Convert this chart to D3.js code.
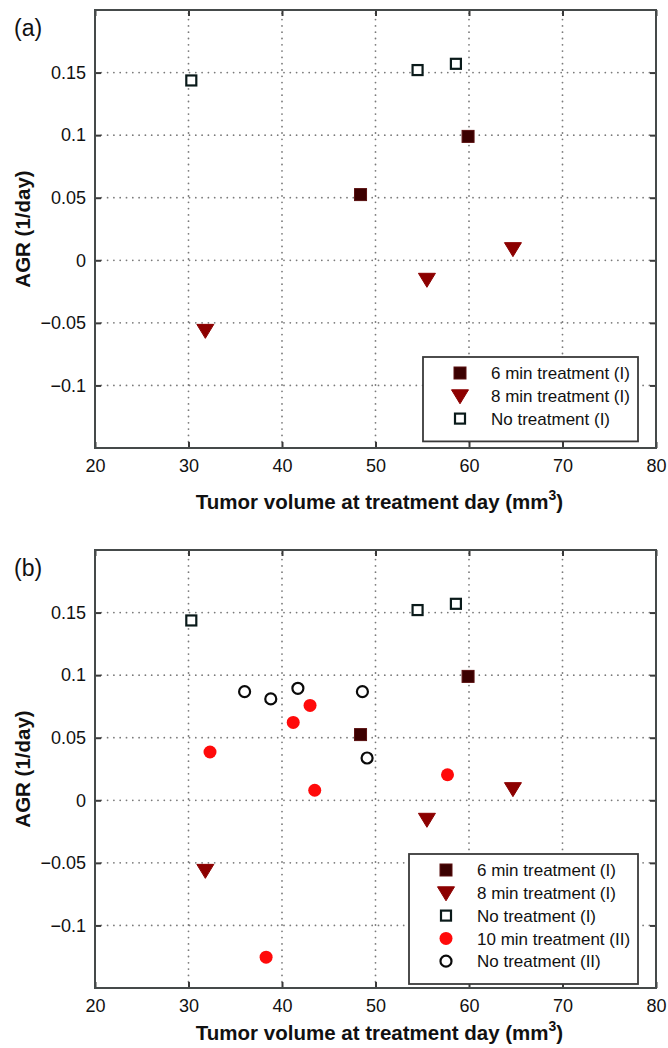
<!DOCTYPE html>
<meta charset="utf-8">
<style>
body { margin: 0; background: #fff; }
svg { display: block; font-family: "Liberation Sans", Arial, sans-serif; }
.grid line { stroke: #7a7a7a; stroke-width: 1.8; stroke-dasharray: 0,6.3; stroke-linecap: round; }
.axis path { display: none; }
.axis line { stroke: #3a3a3a; stroke-width: 2; }
.axis text { font-size: 18px; fill: #111; }
.frame { fill: none; stroke: #454a4a; stroke-width: 2; }
</style>
<svg width="668" height="1048"></svg>
<script src="https://d3js.org/d3.v7.min.js"></script>
<script>

// tick values / labels
var xTicks = [20, 30, 40, 50, 60, 70, 80];
var yTicks = [-0.1, -0.05, 0, 0.05, 0.1, 0.15];
var yTickLabels = ["\u22120.1", "\u22120.05", "0", "0.05", "0.1", "0.15"];

// series
var sixMinX = [48.4, 59.9];
var sixMinY = [0.0525, 0.099];
var eightMinX = [31.8, 55.5, 64.7];
var eightMinY = [-0.056, -0.0152, 0.0093];
var noTreatIX = [30.3, 54.5, 58.6];
var noTreatIY = [0.1437, 0.152, 0.157];
var tenMinX = [32.3, 41.2, 43.0, 43.5, 57.7, 38.3];
var tenMinY = [0.0386, 0.0622, 0.0758, 0.008, 0.0204, -0.1254];
var noTreatIIX = [36.0, 38.8, 41.7, 48.6, 49.1];
var noTreatIIY = [0.0868, 0.081, 0.0895, 0.0868, 0.0338];

var series = [
  {name: "6 min treatment (I)", xs: sixMinX, ys: sixMinY, shape: "fsquare"},
  {name: "8 min treatment (I)", xs: eightMinX, ys: eightMinY, shape: "tri"},
  {name: "No treatment (I)", xs: noTreatIX, ys: noTreatIY, shape: "osquare"},
  {name: "10 min treatment (II)", xs: tenMinX, ys: tenMinY, shape: "fcircle"},
  {name: "No treatment (II)", xs: noTreatIIX, ys: noTreatIIY, shape: "ocircle"}
];

var svg = d3.select("svg");

function marker(g, shape, x, y) {
  if (shape == "fsquare") {
    g.append("rect").attr("x", x - 6).attr("y", y - 6).attr("width", 12).attr("height", 12)
      .attr("fill", "#3b0000").attr("stroke", "#5a1010").attr("stroke-width", 1);
  } else if (shape == "osquare") {
    g.append("rect").attr("x", x - 5).attr("y", y - 5).attr("width", 10).attr("height", 10)
      .attr("fill", "#fff").attr("stroke", "#0a1a1a").attr("stroke-width", 2.2);
  } else if (shape == "tri") {
    g.append("path").attr("d", "M" + (x - 8.5) + "," + (y - 6) + "L" + (x + 8.5) + "," + (y - 6) + "L" + x + "," + (y + 8) + "Z")
      .attr("fill", "#8c0000").attr("stroke", "#8c0000").attr("stroke-width", 1);
  } else if (shape == "fcircle") {
    g.append("circle").attr("cx", x).attr("cy", y).attr("r", 6.5).attr("fill", "#ff0a0a");
  } else if (shape == "ocircle") {
    g.append("circle").attr("cx", x).attr("cy", y).attr("r", 5.5)
      .attr("fill", "#fff").attr("stroke", "#0a0a0a").attr("stroke-width", 2.2);
  }
}

function panel(top, nSeries, label, legend) {
  var left = 95, right = 656, bottom = top + 438;
  var x = d3.scaleLinear().domain([20, 80]).range([left, right]);
  var y = d3.scaleLinear().domain([-0.15, 0.2]).range([bottom, top]);
  var g = svg.append("g");

  var grid = g.append("g").attr("class", "grid");
  grid.selectAll(".gx").data(xTicks.slice(1, -1)).enter().append("line")
    .attr("x1", function(d) { return x(d); }).attr("x2", function(d) { return x(d); })
    .attr("y1", bottom).attr("y2", top);
  grid.selectAll(".gy").data(yTicks).enter().append("line")
    .attr("y1", function(d) { return y(d); }).attr("y2", function(d) { return y(d); })
    .attr("x1", left).attr("x2", right);

  g.append("g").attr("class", "axis").attr("transform", "translate(0," + bottom + ")")
    .call(d3.axisBottom(x).tickValues(xTicks).tickSize(-6).tickPadding(11));
  g.append("g").attr("class", "axis").attr("transform", "translate(0," + top + ")")
    .call(d3.axisTop(x).tickValues(xTicks).tickSize(-6).tickFormat(""));
  g.append("g").attr("class", "axis").attr("transform", "translate(" + left + ",0)")
    .call(d3.axisLeft(y).tickValues(yTicks).tickSize(-6).tickPadding(9)
      .tickFormat(function(d, i) { return yTickLabels[i]; }));
  g.append("g").attr("class", "axis").attr("transform", "translate(" + right + ",0)")
    .call(d3.axisRight(y).tickValues(yTicks).tickSize(-6).tickFormat(""));

  g.append("rect").attr("class", "frame").attr("x", left).attr("y", top)
    .attr("width", right - left).attr("height", bottom - top);

  var pts = g.append("g");
  series.slice(0, nSeries).forEach(function(s) {
    s.xs.forEach(function(v, i) { marker(pts, s.shape, x(v), y(s.ys[i])); });
  });

  // legend
  var lg = g.append("g");
  lg.append("rect").attr("x", legend.x).attr("y", legend.y).attr("width", legend.w)
    .attr("height", 16 + nSeries * 22.8).attr("fill", "#fff")
    .attr("stroke", "#3a3a3a").attr("stroke-width", 1.8);
  series.slice(0, nSeries).forEach(function(s, i) {
    var cy = legend.y + 16 + i * 22.8;
    marker(lg, s.shape, legend.x + 37, cy);
    lg.append("text").attr("x", legend.x + 68).attr("y", cy).attr("dy", "0.36em")
      .attr("font-size", 17).attr("fill", "#111").text(s.name);
  });

  // axis titles
  var xt = g.append("text").attr("x", (left + right) / 2 + 4).attr("y", bottom + legend.titleOff)
    .attr("text-anchor", "middle").attr("font-size", 20.5).attr("font-weight", "bold").attr("fill", "#111");
  xt.append("tspan").text("Tumor volume at treatment day (mm");
  xt.append("tspan").attr("dy", -9).attr("font-size", 14).text("3");
  xt.append("tspan").attr("dy", 9).text(")");

  g.append("text").attr("transform", "translate(30," + y(0.025) + ") rotate(-90)")
    .attr("text-anchor", "middle").attr("font-size", 20.5).attr("font-weight", "bold")
    .attr("fill", "#111").text("AGR (1/day)");

  g.append("text").attr("x", 14).attr("y", top + 26).attr("font-size", 23)
    .attr("fill", "#111").text(label);
}

panel(10, 3, "(a)", {x: 423, y: 357, w: 215, titleOff: 61});
panel(550, 5, "(b)", {x: 409, y: 854, w: 229, titleOff: 52});

</script>
